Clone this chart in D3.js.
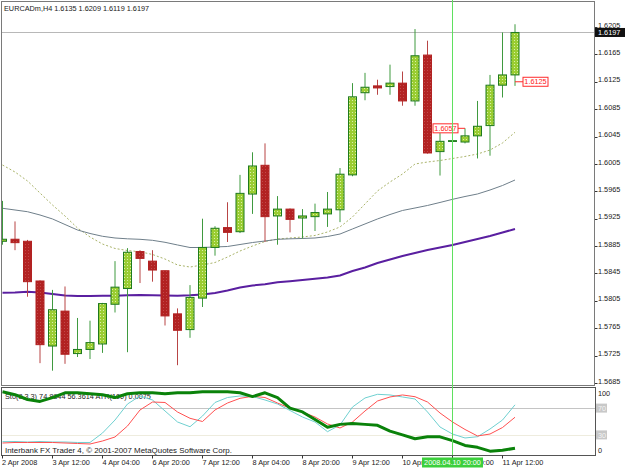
<!DOCTYPE html>
<html>
<head>
<meta charset="utf-8">
<script src="https://cdn.jsdelivr.net/npm/d3@7"></script>
<style>
    html, body { margin: 0; padding: 0; background: #fff; }
    svg { display: block; }
    text { font-family: Tahoma, "Liberation Sans", Arial, sans-serif; font-size: 7.3px; fill: #1a1a1a; }
</style>
</head>
<body>
<svg id="chart" width="625" height="469"></svg>
<script>
// EURCADm, H4 — bars from 2 Apr 20:00 to 11 Apr 16:00
const open  = [1.5892, 1.5895, 1.5892, 1.5834, 1.5739, 1.5790, 1.5728, 1.5734, 1.5742, 1.5800, 1.5823, 1.5877, 1.5863, 1.5849,
               1.5786, 1.5763, 1.5809, 1.5883, 1.5912, 1.5906, 1.5961, 1.6003, 1.5929, 1.5939, 1.5926, 1.5928, 1.5932, 1.5938,
               1.5989, 1.6109, 1.6119, 1.6118, 1.6123, 1.6097, 1.6164, 1.6023, 1.6038, 1.6037, 1.6046, 1.6061, 1.6120, 1.6135];
const high  = [1.5951, 1.5921, 1.5894, 1.5835, 1.5821, 1.5826, 1.5780, 1.5776, 1.5802, 1.5863, 1.5882, 1.5879, 1.5879, 1.5849,
               1.5794, 1.5828, 1.5925, 1.5914, 1.5949, 1.5989, 1.6022, 1.6035, 1.5958, 1.5940, 1.5939, 1.5947, 1.5964, 1.5999,
               1.6123, 1.6138, 1.6128, 1.6150, 1.6140, 1.6202, 1.6185, 1.6050, 1.6040, 1.6057, 1.6097, 1.6135, 1.6197, 1.6209];
const low   = [1.5887, 1.5879, 1.5811, 1.5714, 1.5703, 1.5713, 1.5723, 1.5720, 1.5729, 1.5788, 1.5730, 1.5831, 1.5833, 1.5769,
               1.5711, 1.5751, 1.5796, 1.5871, 1.5891, 1.5904, 1.5932, 1.5891, 1.5887, 1.5905, 1.5896, 1.5907, 1.5913, 1.5920,
               1.5987, 1.6098, 1.6106, 1.6106, 1.6090, 1.6090, 1.6020, 1.5988, 1.6023, 1.6035, 1.6013, 1.6017, 1.6102, 1.6119];
const close = [1.5895, 1.5890, 1.5833, 1.5741, 1.5792, 1.5727, 1.5734, 1.5744, 1.5801, 1.5825, 1.5876, 1.5867, 1.5850, 1.5783,
               1.5762, 1.5810, 1.5883, 1.5911, 1.5905, 1.5962, 1.6002, 1.5928, 1.5939, 1.5924, 1.5929, 1.5934, 1.5939, 1.5990,
               1.6103, 1.6117, 1.6116, 1.6123, 1.6097, 1.6163, 1.6021, 1.6038, 1.6039, 1.6046, 1.6060, 1.6120, 1.6135, 1.6197];

// moving averages on the price chart
const maFast = [1.60034, 1.59932, 1.59801, 1.59625, 1.59450, 1.59289, 1.59114, 1.58983, 1.58880, 1.58815, 1.58785, 1.58768,
                1.58727, 1.58661, 1.58574, 1.58544, 1.58574, 1.58610, 1.58690, 1.58778, 1.58851, 1.58917, 1.58953, 1.58968,
                1.58983, 1.59005, 1.59056, 1.59129, 1.59275, 1.59465, 1.59655, 1.59786, 1.59903, 1.60049, 1.60078, 1.60100,
                1.60129, 1.60159, 1.60195, 1.60253, 1.60356, 1.60512];
const maMid  = [1.59402, 1.59377, 1.59352, 1.59304, 1.59246, 1.59165, 1.59085, 1.59034, 1.58993, 1.58968, 1.58956, 1.58949,
                1.58934, 1.58905, 1.58866, 1.58829, 1.58829, 1.58837, 1.58844, 1.58873, 1.58902, 1.58924, 1.58949, 1.58956,
                1.58961, 1.58968, 1.58990, 1.59026, 1.59100, 1.59173, 1.59246, 1.59311, 1.59370, 1.59406, 1.59443, 1.59487,
                1.59533, 1.59574, 1.59611, 1.59669, 1.59735, 1.59815];
const maSlow = [1.58169, 1.58172, 1.58182, 1.58172, 1.58150, 1.58128, 1.58121, 1.58121, 1.58124, 1.58125, 1.58131, 1.58135,
                1.58132, 1.58128, 1.58125, 1.58131, 1.58143, 1.58165, 1.58201, 1.58245, 1.58274, 1.58292, 1.58321, 1.58337,
                1.58355, 1.58372, 1.58391, 1.58420, 1.58486, 1.58537, 1.58603, 1.58654, 1.58705, 1.58749, 1.58793, 1.58829,
                1.58866, 1.58910, 1.58953, 1.58997, 1.59048, 1.59100];

// sub window: Stochastic(8,3,3) and ATR(100)
const stoMain   = [19.9, 20.1, 19.4, 20.1, 19.4, 19.4, 18.7, 18.7, 32.8, 52.2, 76.1, 88.1, 82.1, 65.7, 49.3, 42.2, 58.2, 78.4,
                   85.8, 88.1, 87.3, 82.1, 76.1, 66.4, 56.7, 49.3, 34.8, 44.8, 71.6, 85.1, 90.6, 89.6, 86.6, 83.6, 64.2, 41.8,
                   31.3, 25.4, 27.3, 38.8, 52.2, 74.8844];
const stoSignal = [17.9, 18.7, 18.7, 18.7, 18.7, 17.9, 17.2, 16.4, 20.9, 26.9, 43.3, 67.2, 79.1, 78.4, 64.2, 54.8, 50.0, 67.2,
                   77.6, 84.6, 87.6, 85.8, 77.6, 69.7, 64.2, 56.7, 46.3, 40.3, 49.3, 65.7, 80.6, 86.6, 89.6, 87.0, 79.1, 62.7,
                   49.3, 38.1, 28.4, 31.3, 41.0, 56.3614];
const atr       = [0.00806, 0.00803, 0.00798, 0.00796, 0.00800, 0.00805, 0.00805, 0.00804, 0.00803, 0.00800, 0.00804, 0.00805,
                   0.00805, 0.00804, 0.00805, 0.00805, 0.00806, 0.00806, 0.00806, 0.00805, 0.00801, 0.00805, 0.00800, 0.00789,
                   0.00785, 0.00777, 0.00769, 0.00772, 0.00773, 0.00772, 0.00771, 0.00765, 0.00761, 0.00757, 0.00759, 0.00759,
                   0.00755, 0.00750, 0.00748, 0.00744, 0.00745, 0.00747];

// axes
const timeTicks  = [0, 4, 8, 12, 16, 20, 24, 28, 32, 36, 40];
const timeLabels = ['2 Apr 2008', '3 Apr 12:00', '4 Apr 04:00', '6 Apr 20:00', '7 Apr 12:00', '8 Apr 04:00',
                    '8 Apr 20:00', '9 Apr 12:00', '10 Apr 04:00', '10 Apr 20:00', '11 Apr 12:00'];
const priceTicks = [1.5685, 1.5725, 1.5765, 1.5805, 1.5845, 1.5885, 1.5925, 1.5965, 1.6005, 1.6045, 1.6085, 1.6125,
                    1.6165, 1.6205];
const stoLevels  = [70, 30];

// objects placed on the chart
const vlineBar    = 36;
const vlineLabel  = '2008.04.10 20:00';
const priceLabels = [{bar: 37, price: 1.6057, side: 'left'}, {bar: 41, price: 1.6125, side: 'right'}];

const svg  = d3.select('#chart');
const fmt4 = d3.format('.4f');
const last = close.length - 1;

const main = {left: 1.5, right: 594.5, top: 1.5, bottom: 385.5};
const sub  = {left: 1.5, right: 595.5, top: 387.5, bottom: 455.5};

const x    = d3.scaleLinear().domain([0, 41]).range([2.5, 515]);
const y    = d3.scaleLinear().domain([1.5685, 1.6205]).range([383, 27]);
const ySto = d3.scaleLinear().domain([0, 100]).range([455, 388]);
const yAtr = d3.scaleLinear().domain([0.0074, 0.0081]).range([455, 388]);

const defs = svg.append('defs');

function dots(id, base, dot) {
    const p = defs.append('pattern').attr('id', id).attr('patternUnits', 'userSpaceOnUse')
        .attr('width', 3).attr('height', 3);
    p.append('rect').attr('width', 3).attr('height', 3).attr('fill', base);
    p.append('rect').attr('x', 1).attr('y', 1).attr('width', 1).attr('height', 1).attr('fill', dot);
}
dots('bullFill', '#9acd32', '#d9f0a8');
dots('bearFill', '#b22222', '#c24a4a');

defs.append('clipPath').attr('id', 'clipMain').append('rect')
    .attr('x', main.left).attr('y', main.top)
    .attr('width', main.right - main.left).attr('height', main.bottom - main.top);
defs.append('clipPath').attr('id', 'clipSub').append('rect')
    .attr('x', sub.left).attr('y', sub.top)
    .attr('width', sub.right - sub.left).attr('height', sub.bottom - sub.top);

svg.append('rect').attr('width', 625).attr('height', 469).attr('fill', '#fff');

// ---------- main window ----------
const plot = svg.append('g').attr('clip-path', 'url(#clipMain)');

plot.append('line')
    .attr('x1', main.left).attr('x2', main.right)
    .attr('y1', Math.round(y(close[last])) + 0.5).attr('y2', Math.round(y(close[last])) + 0.5)
    .attr('stroke', '#b8b8b8');

const maLine = d3.line().x((d, i) => x(i)).y(d => y(d));

plot.append('path').attr('d', maLine(maFast))
    .attr('fill', 'none').attr('stroke', '#a9b36a').attr('stroke-width', 1).attr('stroke-dasharray', '2,2');
plot.append('path').attr('d', maLine(maMid))
    .attr('fill', 'none').attr('stroke', '#6f7f8a').attr('stroke-width', 1);
plot.append('path').attr('d', maLine(maSlow))
    .attr('fill', 'none').attr('stroke', '#5a1fa0').attr('stroke-width', 2);

const bars = d3.range(close.length).map(i => ({i, o: open[i], h: high[i], l: low[i], c: close[i]}));

const candle = plot.selectAll('.candle').data(bars).enter().append('g').attr('class', 'candle');

candle.append('line')
    .attr('x1', d => x(d.i)).attr('x2', d => x(d.i))
    .attr('y1', d => y(d.h)).attr('y2', d => y(d.l))
    .attr('stroke', d => d.c >= d.o ? '#3f9a3f' : '#b84545')
    .attr('stroke-width', 1);

candle.append('rect')
    .attr('x', d => x(d.i) - 4)
    .attr('y', d => y(Math.max(d.o, d.c)))
    .attr('width', 8)
    .attr('height', d => Math.max(0.8, Math.abs(y(d.o) - y(d.c))))
    .attr('fill', d => d.c >= d.o ? 'url(#bullFill)' : 'url(#bearFill)')
    .attr('stroke', d => d.c >= d.o ? '#1f7a1f' : '#b22222')
    .attr('stroke-width', 1);

// price label objects
priceLabels.forEach(p => {
    const ax = x(p.bar), ay = y(p.price), w = 25, h = 9;
    const bx = p.side === 'left' ? ax - 7 - w : ax + 8;
    const g  = plot.append('g');
    g.append('line')
        .attr('x1', p.side === 'left' ? bx + w : ax).attr('x2', p.side === 'left' ? ax : bx)
        .attr('y1', ay).attr('y2', ay).attr('stroke', '#ff2a2a');
    g.append('rect').attr('x', bx).attr('y', ay - h / 2).attr('width', w).attr('height', h)
        .attr('fill', '#fff').attr('stroke', '#ff2a2a');
    g.append('text').attr('x', bx + w / 2).attr('y', ay + 2.6).attr('text-anchor', 'middle')
        .style('fill', '#ff2020').text(fmt4(p.price));
});

svg.append('text').attr('x', 4).attr('y', 10.5)
    .text(`EURCADm,H4  ${fmt4(open[last])} ${fmt4(high[last])} ${fmt4(low[last])} ${fmt4(close[last])}`);

// price axis
const yAxis = svg.append('g');
yAxis.selectAll('line').data(priceTicks).enter().append('line')
    .attr('x1', main.right).attr('x2', main.right + 3)
    .attr('y1', d => Math.round(y(d)) + 0.5).attr('y2', d => Math.round(y(d)) + 0.5)
    .attr('stroke', '#333');
yAxis.selectAll('text').data(priceTicks).enter().append('text')
    .attr('x', 598).attr('y', d => y(d) + 0.6)
    .text(d => fmt4(d));

const cy = y(close[last]);
svg.append('rect').attr('x', main.right).attr('y', cy - 4.5).attr('width', 31).attr('height', 9).attr('fill', '#111');
svg.append('text').attr('x', 598).attr('y', cy + 2.6).style('fill', '#fff').text(fmt4(close[last]));

// ---------- sub window ----------
const subG = svg.append('g').attr('clip-path', 'url(#clipSub)');

subG.append('line')
    .attr('x1', sub.left).attr('x2', sub.right)
    .attr('y1', Math.round(ySto(stoLevels[0])) + 0.5).attr('y2', Math.round(ySto(stoLevels[0])) + 0.5)
    .attr('stroke', '#c4c4c4');
subG.append('line')
    .attr('x1', sub.left).attr('x2', sub.right)
    .attr('y1', Math.round(ySto(stoLevels[1])) + 0.5).attr('y2', Math.round(ySto(stoLevels[1])) + 0.5)
    .attr('stroke', '#ddd8bc').attr('stroke-dasharray', '1,1');

subG.append('text').attr('x', 5).attr('y', 398.5)
    .text(`Sto(8,3,3) ${fmt4(stoMain[last])} ${fmt4(stoSignal[last])}  ATR(100) ${fmt4(atr[last])}`);
subG.append('text').attr('x', 5).attr('y', 452.5).style('font-size', '7.9px')
    .text('Interbank FX Trader 4, © 2001-2007 MetaQuotes Software Corp.');

const stoLine = d3.line().x((d, i) => x(i)).y(d => ySto(d));
subG.append('path').attr('d', stoLine(stoMain))
    .attr('fill', 'none').attr('stroke', '#6fd0d0').attr('stroke-width', 1);
subG.append('path').attr('d', stoLine(stoSignal))
    .attr('fill', 'none').attr('stroke', '#ff5050').attr('stroke-width', 1);
subG.append('path').attr('d', d3.line().x((d, i) => x(i)).y(d => yAtr(d))(atr))
    .attr('fill', 'none').attr('stroke', '#0a820a').attr('stroke-width', 3).attr('stroke-linejoin', 'round');

// sub window scale labels
svg.append('text').attr('x', 598).attr('y', sub.top + 8).text('100');
svg.append('text').attr('x', 598).attr('y', sub.bottom - 3).text('0');
stoLevels.forEach(v => {
    svg.append('rect').attr('x', 596).attr('y', ySto(v) - 4.5).attr('width', 11).attr('height', 9).attr('fill', '#c8c8c8');
    svg.append('text').attr('x', 598).attr('y', ySto(v) + 2.6).style('fill', '#f4f4f4').text(v);
});

// ---------- frames ----------
svg.append('rect')
    .attr('x', main.left).attr('y', main.top)
    .attr('width', main.right - main.left).attr('height', main.bottom - main.top)
    .attr('fill', 'none').attr('stroke', '#7a7a7a');
svg.append('rect')
    .attr('x', sub.left).attr('y', sub.top)
    .attr('width', sub.right - sub.left).attr('height', sub.bottom - sub.top)
    .attr('fill', 'none').attr('stroke', '#555');

// vertical line object
svg.append('line')
    .attr('x1', x(vlineBar)).attr('x2', x(vlineBar))
    .attr('y1', 0).attr('y2', sub.bottom)
    .attr('stroke', '#5fe05f').attr('stroke-width', 1);

// ---------- time axis ----------
const tAxis = svg.append('g');
tAxis.selectAll('line').data(timeTicks).enter().append('line')
    .attr('x1', d => x(d)).attr('x2', d => x(d))
    .attr('y1', sub.bottom).attr('y2', sub.bottom + 3)
    .attr('stroke', '#333');
tAxis.selectAll('text').data(timeTicks).enter().append('text')
    .attr('x', (d, i) => i === 0 ? 2 : x(d))
    .attr('y', 464.5)
    .text((d, i) => timeLabels[i]);

const vx = x(vlineBar);
svg.append('rect').attr('x', vx - 30.5).attr('y', 457.5).attr('width', 61).attr('height', 10).attr('fill', '#3ccf3c');
svg.append('text').attr('x', vx).attr('y', 465).attr('text-anchor', 'middle').style('fill', '#fff').text(vlineLabel);
</script>
</body>
</html>
